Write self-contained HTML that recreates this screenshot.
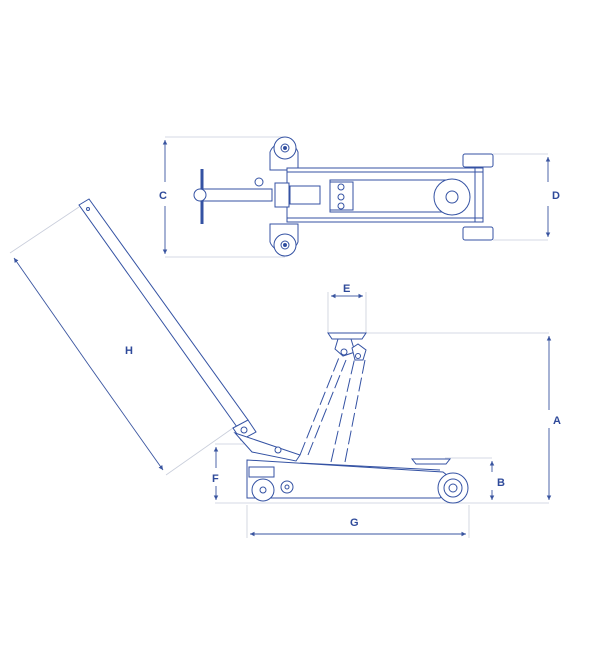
<!DOCTYPE html>
<html><head><style>
html,body{margin:0;padding:0;background:#fff;}
svg{display:block;}
text{font-family:"Liberation Sans",sans-serif;font-weight:bold;font-size:11px;fill:#2f4a9a;}
</style></head><body>
<svg width="600" height="667" viewBox="0 0 600 667" xmlns="http://www.w3.org/2000/svg">
<defs>
<marker id="ar" markerWidth="6" markerHeight="6" refX="5" refY="3" orient="auto"><path d="M0,0.5 L5,3 L0,5.5 z" fill="#3a55a0"/></marker>
</defs>
<g stroke="#c9cedb" stroke-width="0.8" fill="none">
<line x1="165" y1="137" x2="285" y2="137"/><line x1="165" y1="257" x2="285" y2="257"/>
<line x1="493" y1="154" x2="548" y2="154"/><line x1="493" y1="240" x2="548" y2="240"/>
<line x1="328" y1="292" x2="328" y2="333"/><line x1="366" y1="292" x2="366" y2="333"/>
<line x1="366" y1="333" x2="549" y2="333"/>
<line x1="215" y1="503" x2="549" y2="503"/>
<line x1="445" y1="458" x2="492" y2="458"/>
<line x1="215" y1="444" x2="246" y2="444"/>
<line x1="247" y1="505" x2="247" y2="538"/><line x1="469" y1="505" x2="469" y2="538"/>
<line x1="79" y1="207" x2="10" y2="253"/><line x1="233" y1="428" x2="166" y2="475"/>
</g>
<g stroke="#3a55a0" stroke-width="0.9" fill="none">
<line x1="165" y1="182" x2="165" y2="140" marker-end="url(#ar)"/><line x1="165" y1="206" x2="165" y2="254" marker-end="url(#ar)"/>
<line x1="548" y1="182" x2="548" y2="157" marker-end="url(#ar)"/><line x1="548" y1="206" x2="548" y2="237" marker-end="url(#ar)"/>
<line x1="347" y1="296" x2="331" y2="296" marker-end="url(#ar)"/><line x1="347" y1="296" x2="363" y2="296" marker-end="url(#ar)"/>
<line x1="549" y1="410" x2="549" y2="336" marker-end="url(#ar)"/><line x1="549" y1="428" x2="549" y2="500" marker-end="url(#ar)"/>
<line x1="492" y1="472" x2="492" y2="461" marker-end="url(#ar)"/><line x1="492" y1="490" x2="492" y2="500" marker-end="url(#ar)"/>
<line x1="216" y1="468" x2="216" y2="447" marker-end="url(#ar)"/><line x1="216" y1="486" x2="216" y2="500" marker-end="url(#ar)"/>
<line x1="358" y1="534" x2="250" y2="534" marker-end="url(#ar)"/><line x1="358" y1="534" x2="466" y2="534" marker-end="url(#ar)"/>
<line x1="88" y1="364" x2="14" y2="258" marker-end="url(#ar)"/><line x1="88" y1="364" x2="163" y2="470" marker-end="url(#ar)"/>
</g>
<g stroke="#3452a3" stroke-width="1" fill="#fff">
<line x1="202" y1="169" x2="202" y2="224" stroke-width="3"/>
<rect x="200" y="189" width="72" height="12"/>
<circle cx="200" cy="195" r="6"/>
<circle cx="259" cy="182" r="4"/>
<path d="M270 170 v-18 a15 15 0 0 1 28 0 v18 z"/>
<circle cx="285" cy="148" r="11"/><circle cx="285" cy="148" r="4"/><circle cx="285" cy="148" r="1.5" fill="#2f4a9a"/>
<path d="M270 224 v18 a15 15 0 0 0 28 0 v-18 z"/>
<circle cx="285" cy="245" r="11"/><circle cx="285" cy="245" r="4"/><circle cx="285" cy="245" r="1.5" fill="#2f4a9a"/>
<rect x="287" y="168" width="196" height="54"/>
<line x1="287" y1="172" x2="483" y2="172"/><line x1="287" y1="218" x2="483" y2="218"/>
<rect x="330" y="180" width="125" height="32"/>
<rect x="330" y="182" width="23" height="28"/>
<circle cx="341" cy="187" r="3"/><circle cx="341" cy="197" r="3"/><circle cx="341" cy="206" r="3"/>
<rect x="275" y="183" width="14" height="24"/>
<rect x="290" y="186" width="30" height="18"/>
<circle cx="452" cy="197" r="18"/><circle cx="452" cy="197" r="6"/>
<line x1="475" y1="168" x2="475" y2="222"/>
<rect x="463" y="154" width="30" height="13" rx="2"/>
<rect x="463" y="227" width="30" height="13" rx="2"/>
<path d="M79 205 L89 199 L248 420 L237 427 Z"/>
<circle cx="88" cy="209" r="1.5"/>
<path d="M233 428 L248 420 L256 432 L241 440 Z"/>
<circle cx="244" cy="430" r="3"/>
<g fill="none" stroke-dasharray="14,4">
<line x1="300" y1="455" x2="340" y2="355"/><line x1="308" y1="455" x2="346" y2="360"/>
<line x1="331" y1="462" x2="355" y2="357"/><line x1="345" y1="462" x2="365" y2="360"/>
</g>
<path d="M328 333 h38 l-4 6 h-30 z"/>
<path d="M338 339 l-3 10 l8 7 l12 -4 l-4 -13 z"/>
<circle cx="344" cy="352" r="3"/>
<path d="M352 348 l6 -4 l8 6 l-3 10 l-8 0 z"/>
<circle cx="358" cy="356" r="2.5"/>
<path d="M247 460 L443 472 L453 480 L440 498 L247 498 Z"/>
<line x1="300" y1="463" x2="440" y2="470"/>
<path d="M235 433 L300 455 L296 461 L252 452 Z"/>
<circle cx="278" cy="450" r="3"/>
<rect x="249" y="467" width="25" height="10"/>
<circle cx="263" cy="490" r="11"/><circle cx="263" cy="490" r="3"/>
<circle cx="287" cy="487" r="6"/><circle cx="287" cy="487" r="2"/>
<path d="M412 459 h38 l-4 5 h-30 z"/>
<circle cx="453" cy="488" r="15"/><circle cx="453" cy="488" r="9"/><circle cx="453" cy="488" r="4"/>
</g>
<text x="159" y="199">C</text>
<text x="552" y="199">D</text>
<text x="343" y="292">E</text>
<text x="553" y="424">A</text>
<text x="497" y="486">B</text>
<text x="212" y="482">F</text>
<text x="350" y="526">G</text>
<text x="125" y="354">H</text>
</svg>
</body></html>
